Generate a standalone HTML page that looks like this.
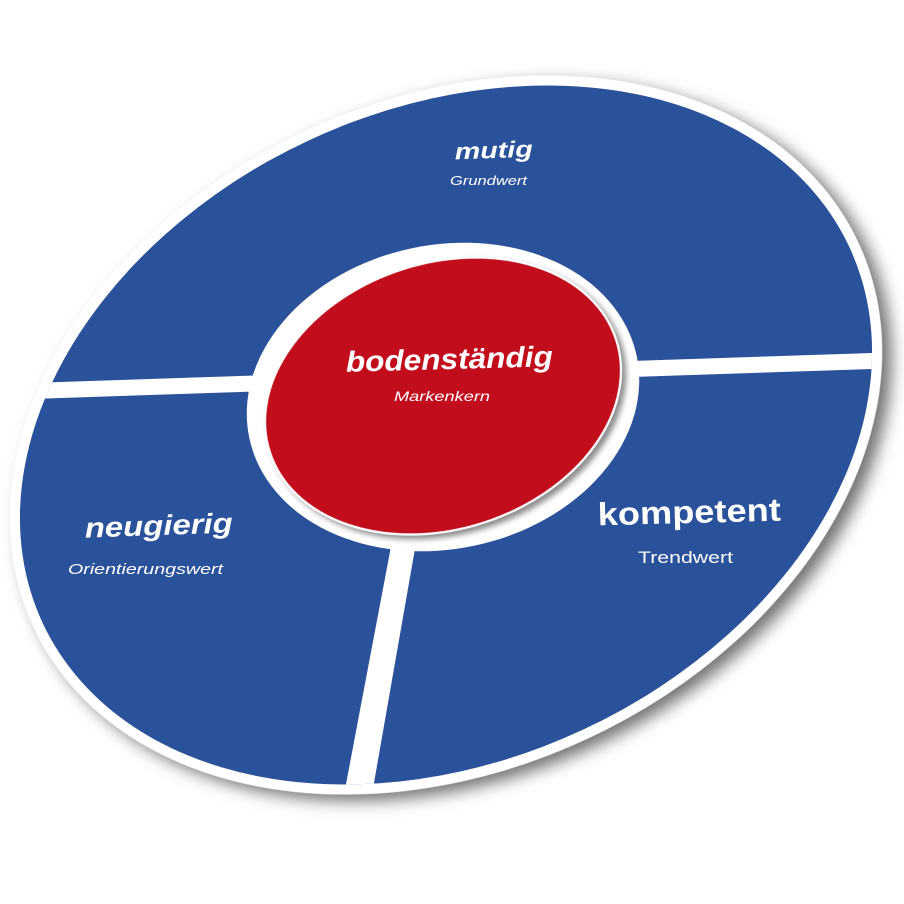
<!DOCTYPE html>
<html><head><meta charset="utf-8"><style>
html,body{margin:0;padding:0;background:#fff;width:904px;height:904px;overflow:hidden}
svg{display:block}
text{font-family:"Liberation Sans","DejaVu Sans",sans-serif;fill:#fff}
</style></head><body>
<svg width="904" height="904" viewBox="0 0 904 904" xmlns="http://www.w3.org/2000/svg">
<defs>
<filter id="sh" x="-20%" y="-20%" width="140%" height="140%">
<feDropShadow dx="6" dy="10" stdDeviation="8" flood-color="#000" flood-opacity="0.55"/>
</filter>
<filter id="sh2" x="-20%" y="-20%" width="140%" height="140%">
<feDropShadow dx="3" dy="5" stdDeviation="3" flood-color="#000" flood-opacity="0.45"/>
</filter>
<clipPath id="c"><ellipse cx="446" cy="435" rx="445" ry="325" transform="rotate(-25 446 435)"/></clipPath>
</defs>
<ellipse cx="446" cy="435" rx="455" ry="335" transform="rotate(-25 446 435)" fill="#fff" filter="url(#sh)"/>
<ellipse cx="446" cy="435" rx="445" ry="325" transform="rotate(-25 446 435)" fill="#2a529b"/>
<g clip-path="url(#c)" fill="#fff">
<polygon points="0,384 300,374 300,390 0,400"/>
<polygon points="600,362 904,352 904,368 600,378"/>
<polygon points="396,520 420,520 371,800 343,800"/>
</g>
<ellipse cx="443" cy="397" rx="198" ry="152" transform="rotate(-12 443 397)" fill="#fff"/>
<ellipse cx="443" cy="396" rx="182" ry="133" transform="rotate(-18 443 396)" fill="#c2101a" stroke="#fff" stroke-width="2" filter="url(#sh2)"/>
<text x="346" y="369" font-size="29" font-weight="bold" font-style="italic" textLength="207" lengthAdjust="spacingAndGlyphs" transform="rotate(-1.5 450 367)">bodenständig</text>
<text x="394" y="401" font-size="14" font-style="italic" textLength="96" lengthAdjust="spacingAndGlyphs">Markenkern</text>
<text x="455" y="158" font-size="23" font-weight="bold" font-style="italic" textLength="78" lengthAdjust="spacingAndGlyphs" transform="rotate(-2 494 157)">mutig</text>
<text x="450" y="185" font-size="12.5" font-style="italic" textLength="77" lengthAdjust="spacingAndGlyphs">Grundwert</text>
<text x="598" y="523" font-size="32" font-weight="bold" textLength="183" lengthAdjust="spacingAndGlyphs" transform="rotate(-1.5 690 522)">kompetent</text>
<text x="638" y="563" font-size="17" textLength="95" lengthAdjust="spacingAndGlyphs">Trendwert</text>
<text x="85" y="535" font-size="28" font-weight="bold" font-style="italic" textLength="148" lengthAdjust="spacingAndGlyphs" transform="rotate(-2 160 534)">neugierig</text>
<text x="68" y="574" font-size="15" font-style="italic" textLength="155" lengthAdjust="spacingAndGlyphs">Orientierungswert</text>
</svg>
</body></html>
